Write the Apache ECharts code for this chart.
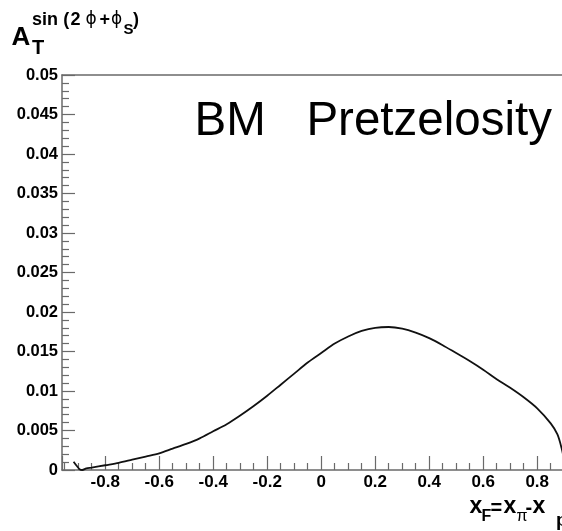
<!DOCTYPE html>
<html>
<head>
<meta charset="utf-8">
<script src="https://cdn.jsdelivr.net/npm/echarts@6/dist/echarts.min.js"></script>
<style>
  html, body { margin: 0; padding: 0; background: #fff; }
  #chart { width: 562px; height: 531px; }
</style>
</head>
<body>
<div id="chart"></div>
<script>
// Feynman-x values of the computed asymmetry curve
const xF = [
  -0.917, -0.905, -0.895, -0.885, -0.87, -0.85, -0.8, -0.75, -0.7, -0.65,
  -0.6, -0.55, -0.5, -0.45, -0.4, -0.35, -0.3, -0.25, -0.2, -0.15,
  -0.1, -0.05, 0.0, 0.05, 0.1, 0.15, 0.2, 0.25, 0.3, 0.35,
  0.4, 0.45, 0.5, 0.55, 0.6, 0.65, 0.7, 0.75, 0.8, 0.85,
  0.875, 0.89, 0.9, 0.905
];
// A_T^{sin(2phi+phi_S)} at each xF
const asym = [
  0.00105, 0.0005, 0.0001, 0.0, 0.0002, 0.0003, 0.0006, 0.0009, 0.0013, 0.0017,
  0.0021, 0.0027, 0.0033, 0.0040, 0.0049, 0.0058, 0.0069, 0.0081, 0.0094, 0.0108,
  0.0122, 0.0136, 0.0148, 0.0160, 0.0169, 0.0176, 0.0180, 0.0181, 0.0179, 0.0174,
  0.0167, 0.0158, 0.0148, 0.0138, 0.0127, 0.0115, 0.0104, 0.0092, 0.0078, 0.0059,
  0.0045, 0.0028, 0.0012, 0.0
];
const xRange = [-0.96, 0.96];
const yRange = [0, 0.05];
const yStep = 0.005;

const FONT = '"Liberation Sans", Arial, Helvetica, sans-serif';
const GREEK = '"DejaVu Sans", sans-serif';
const AXIS_COLOR = '#6a6a6a';

// place a text element by its alphabetic baseline
function txt(x, baseline, s, size, weight, family) {
  return {
    type: 'text',
    x: x,
    y: baseline - 0.35 * size,
    silent: true,
    style: {
      text: s,
      font: (weight || 'normal') + ' ' + size + 'px ' + (family || FONT),
      fill: '#000',
      align: 'left',
      verticalAlign: 'middle'
    }
  };
}

const chart = echarts.init(document.getElementById('chart'), null, { renderer: 'canvas' });

chart.setOption({
  animation: false,
  backgroundColor: '#fff',
  grid: {
    left: 62, top: 75, bottom: 61, right: -18.4,
    containLabel: false,
    outerBoundsMode: 'none'
  },
  xAxis: [
    {
      type: 'value',
      min: xRange[0],
      max: xRange[1],
      splitNumber: 10,
      axisLine: { show: true, onZero: false, lineStyle: { color: AXIS_COLOR, width: 1.5 } },
      axisTick: { show: true, inside: true, length: 14, lineStyle: { color: AXIS_COLOR, width: 1.2 } },
      minorTick: { show: true, splitNumber: 4, length: 7, lineStyle: { color: AXIS_COLOR, width: 1.2 } },
      axisLabel: {
        show: true, margin: 4, showMinLabel: false, showMaxLabel: false,
        color: '#000', fontFamily: FONT, fontWeight: 'bold', fontSize: 17
      },
      splitLine: { show: false },
      minorSplitLine: { show: false }
    },
    {
      type: 'value',
      position: 'top',
      min: xRange[0],
      max: xRange[1],
      axisLine: { show: true, onZero: false, lineStyle: { color: AXIS_COLOR, width: 1.5 } },
      axisTick: { show: false },
      axisLabel: { show: false },
      splitLine: { show: false }
    }
  ],
  yAxis: {
    type: 'value',
    min: yRange[0],
    max: yRange[1],
    interval: yStep,
    axisLine: { show: true, onZero: false, lineStyle: { color: AXIS_COLOR, width: 1.5 } },
    axisTick: { show: true, inside: true, length: 13, lineStyle: { color: AXIS_COLOR, width: 1.2 } },
    minorTick: { show: true, splitNumber: 5, length: 7, lineStyle: { color: AXIS_COLOR, width: 1.2 } },
    axisLabel: {
      show: true, margin: 4,
      color: '#000', fontFamily: FONT, fontWeight: 'bold', fontSize: 16.5
    },
    splitLine: { show: false },
    minorSplitLine: { show: false }
  },
  series: [
    {
      type: 'line',
      xAxisIndex: 0,
      data: xF.map((x, i) => [x, asym[i]]),
      showSymbol: false,
      smooth: 0.3,
      lineStyle: { color: '#111', width: 1.8 },
      z: 3
    }
  ],
  graphic: [
    // in-frame label
    txt(194.6, 139, 'BM', 47.5, 'normal'),
    txt(306.4, 139, 'Pretzelosity', 47.5, 'normal'),
    // y-axis title: A_T^{sin(2phi + phi_S)}
    txt(11.5, 46.7, 'A', 26, 'bold'),
    txt(32, 55, 'T', 20, 'bold'),
    txt(32, 26, 'sin', 18, 'bold'),
    txt(63.3, 26.5, '(', 18, 'bold'),
    txt(70.5, 26, '2', 18, 'bold'),
    txt(85.5, 26, 'ϕ', 17, 'normal', GREEK),
    txt(99.5, 26, '+', 18, 'bold'),
    txt(111, 26, 'ϕ', 17, 'normal', GREEK),
    txt(123.5, 35, 'S', 15, 'bold'),
    txt(133, 26.5, ')', 18, 'bold'),
    // x-axis title: x_F = x_pi - x_p
    txt(469.5, 515, 'x', 23, 'bold'),
    txt(481.5, 521.7, 'F', 16, 'bold'),
    txt(490.5, 515, '=', 20, 'bold'),
    txt(503.5, 515, 'x', 23, 'bold'),
    txt(516.5, 522, 'π', 16, 'normal'),
    txt(525.5, 515, '-', 20, 'bold'),
    txt(532.5, 515, 'x', 23, 'bold'),
    txt(556, 527, 'p', 19, 'bold')
  ]
});
</script>
</body>
</html>
